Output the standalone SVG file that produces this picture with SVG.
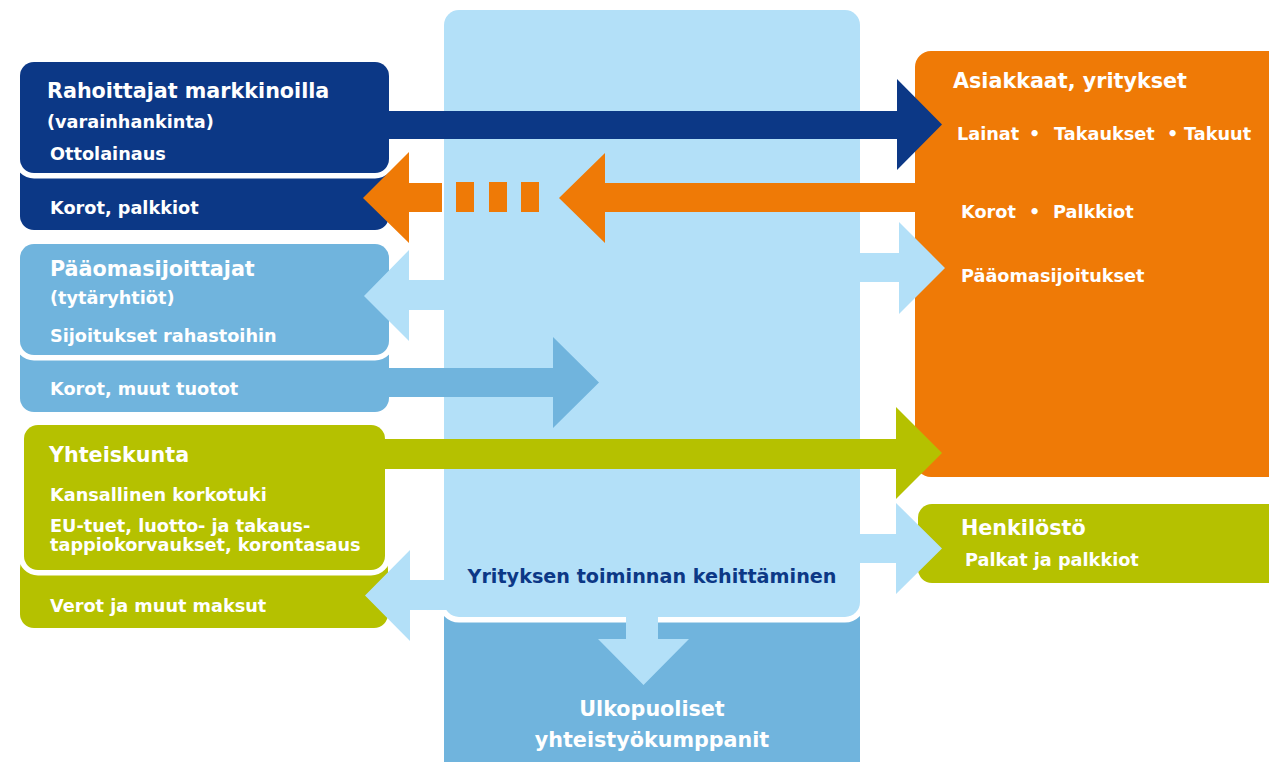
<svg xmlns="http://www.w3.org/2000/svg" width="1269" height="762" viewBox="0 0 1269 762">
<style>
text{font-family:"DejaVu Sans","Verdana",sans-serif;font-weight:bold;fill:#fff}
.h{font-size:20.7px}
.m{font-size:17.7px}
.navy{fill:#0c3886}
.org{fill:#ef7a06}
.lb{fill:#b3e0f8}
.mb{fill:#70b4dd}
.gr{fill:#b5c100}
.sep{stroke:#fff;stroke-width:11;paint-order:stroke}
</style>
<rect width="1269" height="762" fill="#fff"/>
<g id="ulkopuoliset">
<rect class="mb" x="444" y="600" width="416" height="190" rx="15"/>
<text class="h" x="652" y="716" text-anchor="middle">Ulkopuoliset</text>
<text class="h" x="652" y="747" text-anchor="middle">yhteistyökumppanit</text>
</g>
<g id="yritys">
<rect class="lb sep" x="444" y="10" width="416" height="607" rx="15"/>
<text x="652" y="583" text-anchor="middle" style="font-size:19.2px;fill:#0c3886">Yrityksen toiminnan kehittäminen</text>
</g>
<g id="rahoittajat">
<rect class="navy" x="20" y="160" width="369" height="70" rx="14"/>
<rect class="navy sep" x="20" y="62" width="369" height="111" rx="14"/>
<text class="h" x="47" y="98">Rahoittajat markkinoilla</text>
<text class="m" x="47" y="128">(varainhankinta)</text>
<text class="m" x="50" y="160">Ottolainaus</text>
<text class="m" x="50" y="214">Korot, palkkiot</text>
</g>
<g id="paaomasijoittajat">
<rect class="mb" x="20" y="340" width="369" height="72" rx="14"/>
<rect class="mb sep" x="20" y="244" width="369" height="111" rx="14"/>
<text class="h" x="50" y="276">Pääomasijoittajat</text>
<text class="m" x="50" y="304">(tytäryhtiöt)</text>
<text class="m" x="50" y="342">Sijoitukset rahastoihin</text>
<text class="m" x="50" y="395">Korot, muut tuotot</text>
</g>
<g id="yhteiskunta">
<rect class="gr" x="20" y="555" width="368" height="73" rx="14"/>
<rect class="gr sep" x="24" y="425" width="361" height="145" rx="14"/>
<text class="h" x="49" y="462">Yhteiskunta</text>
<text class="m" x="50" y="501">Kansallinen korkotuki</text>
<text class="m" x="50" y="532">EU-tuet, luotto- ja takaus-</text>
<text class="m" x="50" y="551">tappiokorvaukset, korontasaus</text>
<text class="m" x="50" y="612">Verot ja muut maksut</text>
</g>
<g id="asiakkaat">
<rect class="org" x="915" y="51" width="400" height="426" rx="16"/>
<text class="h" x="953" y="88">Asiakkaat, yritykset</text>
<text class="m" y="140"><tspan x="957">Lainat</tspan><tspan x="1029">•</tspan><tspan x="1054">Takaukset</tspan><tspan x="1167">•</tspan><tspan x="1184">Takuut</tspan></text>
<text class="m" y="218"><tspan x="961">Korot</tspan><tspan x="1029">•</tspan><tspan x="1053">Palkkiot</tspan></text>
<text class="m" x="961" y="282">Pääomasijoitukset</text>
</g>
<g id="henkilosto">
<rect class="gr" x="918" y="504" width="400" height="79" rx="14"/>
<text class="h" x="961" y="535">Henkilöstö</text>
<text class="m" x="965" y="566">Palkat ja palkkiot</text>
</g>
<g id="connectors">
<polygon class="navy" points="385,111 897,111 897,79 942,124.5 897,170 897,139 385,139"/>
<polygon class="org" points="920,183 605,183 605,153 559,198 605,243 605,212 920,212"/>
<rect class="org" x="456" y="182" width="18" height="30"/>
<rect class="org" x="489" y="182" width="18" height="30"/>
<rect class="org" x="521" y="182" width="18" height="30"/>
<polygon class="org" points="442,183 409,183 409,152 363,198 409,243 409,212 442,212"/>
<polygon class="lb" points="856,253 899,253 899,222 945,268 899,314 899,282 856,282"/>
<polygon class="lb" points="448,280 409,280 409,250 364,296 409,341 409,310 448,310"/>
<polygon class="mb" points="385,368 553,368 553,337 599,382.5 553,428 553,397 385,397"/>
<polygon class="gr" points="380,439 896,439 896,407 942,453 896,499 896,469 380,469"/>
<polygon class="lb" points="856,534 896,534 896,503 942,548.5 896,594 896,563 856,563"/>
<polygon class="lb" points="448,580 410,580 410,550 365,595.5 410,641 410,610 448,610"/>
<polygon class="lb" points="626,612 658,612 658,639 689,639 643.5,685 598,639 626,639"/>
</g>
</svg>
